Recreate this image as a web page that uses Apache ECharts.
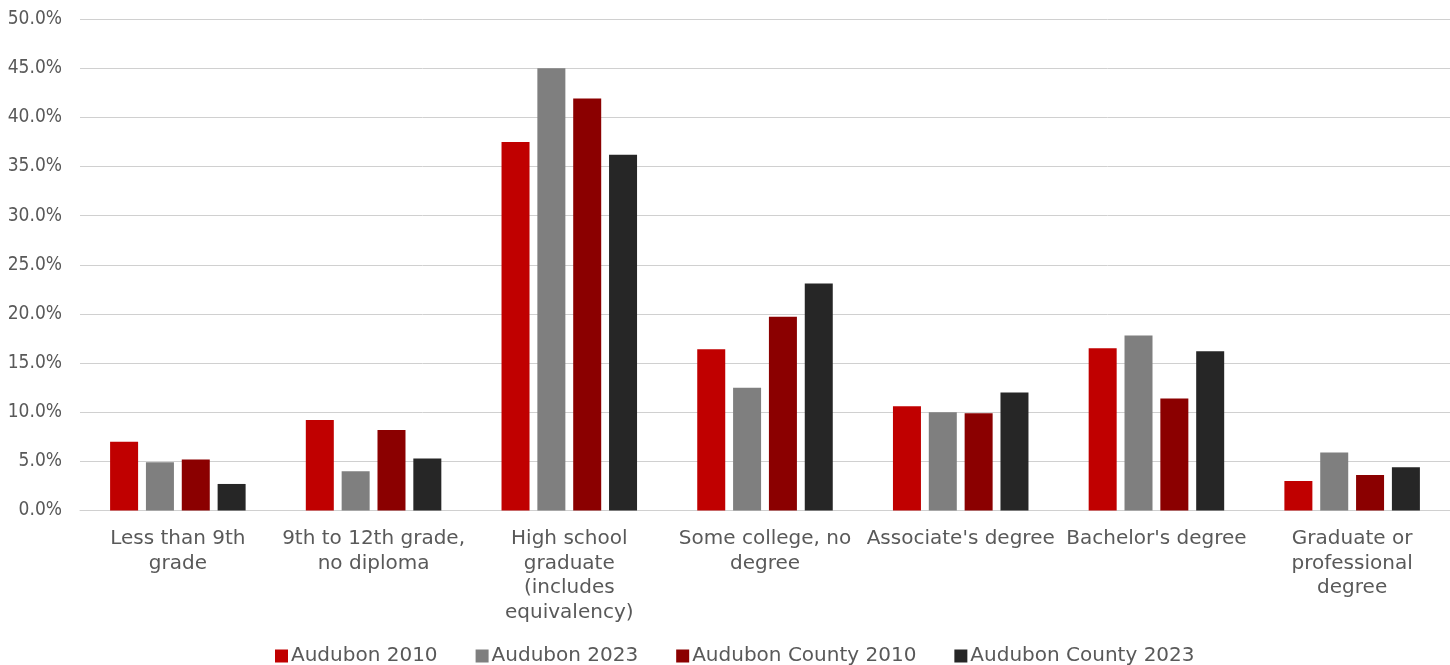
<!DOCTYPE html>
<html>
<head>
<meta charset="utf-8">
<script src="https://cdn.jsdelivr.net/npm/echarts@6/dist/echarts.min.js"></script>
<style>
  html, body { margin: 0; padding: 0; background: #ffffff; }
  #chart { width: 1450px; height: 665px; }
</style>
</head>
<body>
<div id="chart"></div>
<script>
// Educational attainment categories and their wrapped axis labels
const categories = [
  "Less than 9th grade",
  "9th to 12th grade, no diploma",
  "High school graduate (includes equivalency)",
  "Some college, no degree",
  "Associate's degree",
  "Bachelor's degree",
  "Graduate or professional degree"
];
const tickLabels = [
  "Less than 9th\ngrade",
  "9th to 12th grade,\nno diploma",
  "High school\ngraduate\n(includes\nequivalency)",
  "Some college, no\ndegree",
  "Associate's degree",
  "Bachelor's degree",
  "Graduate or\nprofessional\ndegree"
];

// Share of population (%) by attainment level
const audubon2010 = [7.0, 9.2, 37.5, 16.4, 10.6, 16.5, 3.0];
const audubon2023 = [4.9, 4.0, 45.0, 12.5, 10.0, 17.8, 5.9];
const county2010  = [5.2, 8.2, 41.9, 19.7, 9.9, 11.4, 3.6];
const county2023  = [2.7, 5.3, 36.2, 23.1, 12.0, 16.2, 4.4];

const seriesNames = ["Audubon 2010", "Audubon 2023", "Audubon County 2010", "Audubon County 2023"];
const seriesColors = ["#C00000", "#7F7F7F", "#8B0000", "#262626"];
const seriesData = [audubon2010, audubon2023, county2010, county2023];

const FONT = "'DejaVu Sans', sans-serif";
const FONT_NUM = "'DejaVu Sans Condensed', 'DejaVu Sans', sans-serif";
const TEXT = "#595959";

const chart = echarts.init(document.getElementById("chart"));
chart.setOption({
  animation: false,
  textStyle: { fontFamily: FONT },
  grid: { left: 80, right: 0, top: 19, bottom: 154.5, containLabel: false },
  legend: {
    bottom: -6,
    left: 270,
    itemWidth: 13,
    itemHeight: 13,
    itemGap: 38,
    icon: "rect",
    textStyle: { color: TEXT, fontSize: 20, fontFamily: FONT, padding: [0, 0, 0, -2] },
    data: seriesNames
  },
  xAxis: {
    type: "category",
    data: categories,
    axisTick: { show: false },
    axisLine: { lineStyle: { color: "#D0D0D0", width: 1 } },
    axisLabel: {
      color: TEXT,
      fontSize: 20,
      fontFamily: FONT,
      lineHeight: 24.7,
      margin: 16,
      interval: 0,
      formatter: (v, i) => tickLabels[i]
    }
  },
  yAxis: {
    type: "value",
    min: 0,
    max: 50,
    interval: 5,
    axisLine: { show: false },
    axisTick: { show: false },
    splitLine: { lineStyle: { color: "#D0D0D0", width: 1 } },
    axisLabel: {
      color: TEXT,
      fontSize: 19,
      fontFamily: FONT_NUM,
      margin: 18,
      formatter: v => v.toFixed(1) + "%"
    }
  },
  series: seriesData.map((d, i) => ({
    name: seriesNames[i],
    type: "bar",
    data: d,
    barWidth: 28,
    barGap: "28%",
    itemStyle: { color: seriesColors[i] }
  }))
});
</script>
</body>
</html>
